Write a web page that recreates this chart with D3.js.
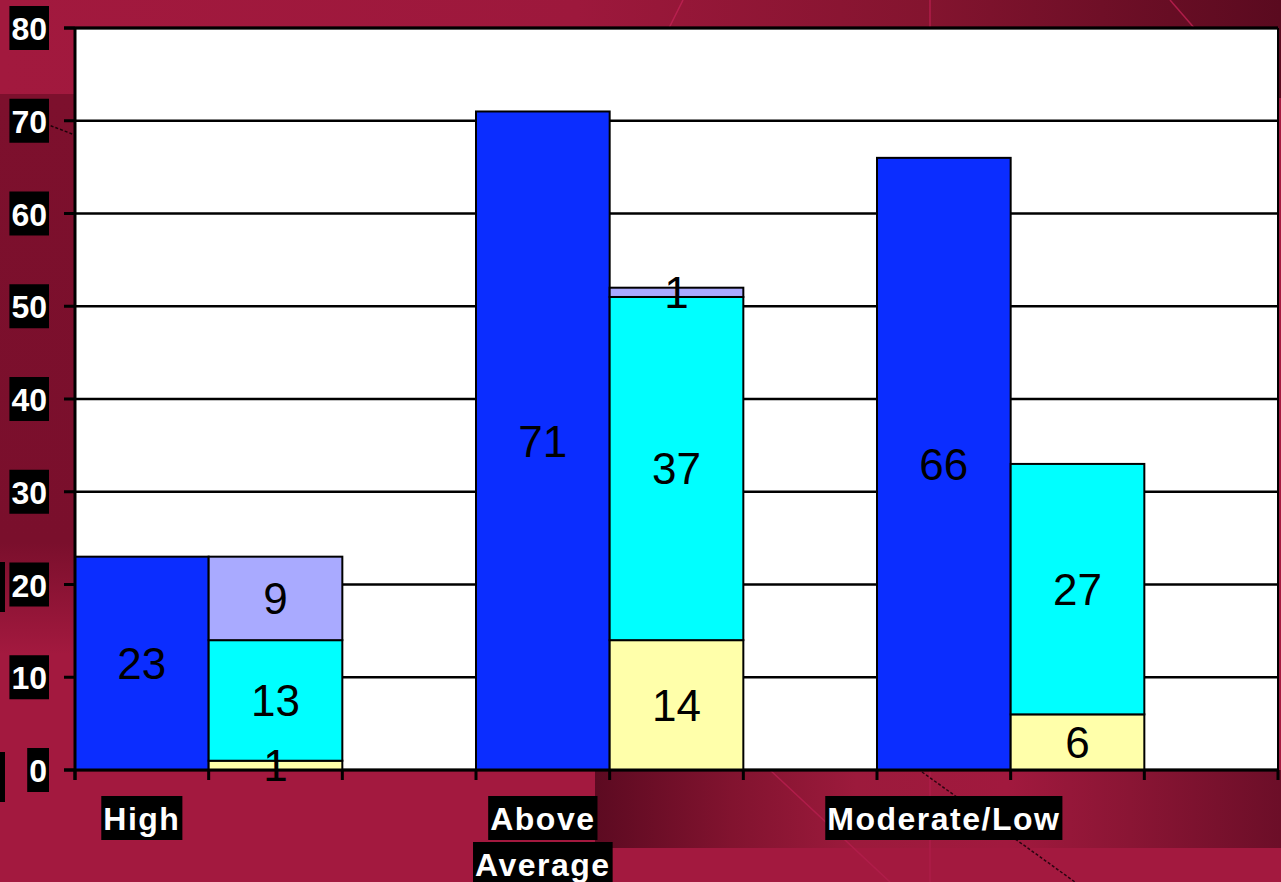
<!DOCTYPE html>
<html>
<head>
<meta charset="utf-8">
<script src="https://cdn.jsdelivr.net/npm/d3@7"></script>
<style>
  html, body { margin: 0; padding: 0; background: #a3193f; }
  svg { display: block; }
</style>
</head>
<body>
<svg id="chart" width="1281" height="882"></svg>
<script>
// data
let categories = ['High', 'Above Average', 'Moderate/Low']
let totals = [23, 71, 66]
let seriesKeys = ['bottom', 'middle', 'top']
let bottomVals = [1, 14, 6]
let middleVals = [13, 37, 27]
let topVals = [9, 1, 0]
let yTicks = [0, 10, 20, 30, 40, 50, 60, 70, 80]

let colors = {
  total: '#0b2dff',
  bottom: '#ffffaa',
  middle: '#00ffff',
  top: '#a9aaff'
}

let width = 1281
let height = 882
let plot = {left: 75, right: 1278, top: 28, bottom: 770}

let svg = d3.select('#chart')
let defs = svg.append('defs')

let grad = (id, stops) => {
  let g = defs.append('linearGradient').attr('id', id)
    .attr('x1', 0).attr('x2', 1).attr('y1', 0).attr('y2', 0)
  stops.forEach(s => g.append('stop').attr('offset', s[0]).attr('stop-color', s[1]))
}
grad('topBand', [[0, '#a2193e'], [0.45, '#9d183c'], [0.72, '#84142f'], [1, '#5a0a1f']])
grad('botBand', [[0, '#5c0a21'], [0.2, '#82132f'], [0.38, '#9c1a3c'], [0.6, '#a1193e'], [0.78, '#8a1534'], [1, '#6c0e28']])
defs.append('linearGradient').attr('id', 'leftBand')
  .attr('x1', 0).attr('x2', 0).attr('y1', 0).attr('y2', 1)
  .call(g => {
    g.append('stop').attr('offset', 0).attr('stop-color', '#7d102d')
    g.append('stop').attr('offset', 0.8).attr('stop-color', '#7a0f2c')
    g.append('stop').attr('offset', 1).attr('stop-color', '#a3193f')
  })

// background
let bg = svg.append('g').attr('class', 'background')
bg.append('rect').attr('width', width).attr('height', height).attr('fill', '#a3193f')
bg.append('rect').attr('x', 0).attr('y', 0).attr('width', width).attr('height', 98).attr('fill', 'url(#topBand)')
bg.append('rect').attr('x', 0).attr('y', 94).attr('width', 75).attr('height', 560).attr('fill', 'url(#leftBand)')
bg.append('rect').attr('x', 595).attr('y', 770).attr('width', width - 595).attr('height', 78).attr('fill', 'url(#botBand)')
bg.append('line').attr('x1', 683).attr('y1', 0).attr('x2', 668).attr('y2', 30).attr('stroke', '#b8204f').attr('stroke-width', 1.5)
bg.append('line').attr('x1', 930).attr('y1', 0).attr('x2', 930).attr('y2', 30).attr('stroke', '#b01d4a').attr('stroke-width', 1.5)
bg.append('line').attr('x1', 1170).attr('y1', 0).attr('x2', 1196).attr('y2', 30).attr('stroke', '#b01d4a').attr('stroke-width', 1.5)
bg.append('line').attr('x1', 930).attr('y1', 770).attr('x2', 930).attr('y2', 882).attr('stroke', '#ad1c48').attr('stroke-width', 1.5)
bg.append('line').attr('x1', 770).attr('y1', 770).attr('x2', 890).attr('y2', 882).attr('stroke', '#b01d4a').attr('stroke-width', 1.5)
bg.append('line').attr('x1', 922).attr('y1', 772).attr('x2', 1075).attr('y2', 882).attr('stroke', '#2a0410').attr('stroke-width', 1.5).attr('stroke-dasharray', '3,2')
bg.append('line').attr('x1', 46).attr('y1', 124).attr('x2', 75).attr('y2', 135).attr('stroke', '#1a0208').attr('stroke-width', 1.5).attr('stroke-dasharray', '3,2')
bg.append('rect').attr('x', 0).attr('y', 562).attr('width', 5).attr('height', 50).attr('fill', '#000')
bg.append('rect').attr('x', 0).attr('y', 752).attr('width', 5).attr('height', 50).attr('fill', '#000')

// scales
let y = d3.scaleLinear().domain([0, 80]).range([plot.bottom, plot.top])
let x = d3.scaleBand().domain(categories).range([plot.left, plot.right]).padding(0)
let slot = x.bandwidth() / 3

// plot area
svg.append('rect')
  .attr('x', plot.left).attr('y', plot.top)
  .attr('width', plot.right - plot.left).attr('height', plot.bottom - plot.top)
  .attr('fill', '#fff')

// gridlines
svg.append('g')
  .selectAll('line')
  .data(yTicks)
  .enter()
  .append('line')
  .attr('x1', plot.left).attr('x2', plot.right)
  .attr('y1', d => y(d)).attr('y2', d => y(d))
  .attr('stroke', '#000').attr('stroke-width', 2.5)

svg.append('line')
  .attr('x1', plot.right).attr('x2', plot.right)
  .attr('y1', plot.top).attr('y2', plot.bottom)
  .attr('stroke', '#000').attr('stroke-width', 2)

// total bars
let rows = categories.map((c, i) => ({
  cat: c, total: totals[i], bottom: bottomVals[i], middle: middleVals[i], top: topVals[i]
}))

let barGroup = svg.append('g').attr('class', 'bars')

barGroup.selectAll('.total-bar')
  .data(rows)
  .enter()
  .append('rect')
  .attr('class', 'total-bar')
  .attr('x', d => x(d.cat))
  .attr('width', slot)
  .attr('y', d => y(d.total))
  .attr('height', d => y(0) - y(d.total))
  .attr('fill', colors.total)
  .attr('stroke', '#000').attr('stroke-width', 2)

let stacked = d3.stack().keys(seriesKeys)(rows)

let segs = stacked.flatMap(s => s.map(p => ({key: s.key, cat: p.data.cat, y0: p[0], y1: p[1]})))
  .filter(d => d.y1 - d.y0 > 0)

barGroup.selectAll('.stack-bar')
  .data(segs)
  .enter()
  .append('rect')
  .attr('class', 'stack-bar')
  .attr('x', d => x(d.cat) + slot)
  .attr('width', slot)
  .attr('y', d => y(d.y1))
  .attr('height', d => y(d.y0) - y(d.y1))
  .attr('fill', d => colors[d.key])
  .attr('stroke', '#000').attr('stroke-width', 2)

// axes lines
svg.append('line')
  .attr('x1', plot.left).attr('x2', plot.left)
  .attr('y1', plot.top).attr('y2', plot.bottom + 10)
  .attr('stroke', '#000').attr('stroke-width', 3)
svg.append('line')
  .attr('x1', plot.left - 11).attr('x2', plot.right)
  .attr('y1', plot.bottom).attr('y2', plot.bottom)
  .attr('stroke', '#000').attr('stroke-width', 3)
svg.append('line')
  .attr('x1', plot.left - 11).attr('x2', plot.right)
  .attr('y1', plot.top).attr('y2', plot.top)
  .attr('stroke', '#000').attr('stroke-width', 3)

// y ticks
svg.append('g')
  .selectAll('line')
  .data(yTicks)
  .enter()
  .append('line')
  .attr('x1', plot.left - 11).attr('x2', plot.left)
  .attr('y1', d => y(d)).attr('y2', d => y(d))
  .attr('stroke', '#000').attr('stroke-width', 3)

// x ticks at each slot boundary
let xTickPos = d3.range(categories.length * 3 + 1).map(i => plot.left + i * slot)
svg.append('g')
  .selectAll('line')
  .data(xTickPos)
  .enter()
  .append('line')
  .attr('x1', d => d).attr('x2', d => d)
  .attr('y1', plot.bottom).attr('y2', plot.bottom + 10)
  .attr('stroke', '#000').attr('stroke-width', 3)

// value labels
let labelData = rows.map(d => ({x: x(d.cat) + slot / 2, v: d.total, y0: 0, y1: d.total}))
  .concat(segs.map(d => ({x: x(d.cat) + slot * 1.5, v: d.y1 - d.y0, y0: d.y0, y1: d.y1})))

svg.append('g')
  .selectAll('text')
  .data(labelData)
  .enter()
  .append('text')
  .attr('x', d => d.x)
  .attr('y', d => y((d.y0 + d.y1) / 2))
  .attr('dy', '0.36em')
  .attr('text-anchor', 'middle')
  .attr('font-family', 'Liberation Sans, Arial, sans-serif')
  .attr('font-size', 44)
  .attr('fill', '#000')
  .text(d => d.v)

// boxed white labels
let boxedText = (g, txt, xPos, yBase, anchor, spacing) => {
  let t = g.append('text')
    .attr('x', xPos).attr('y', yBase)
    .attr('text-anchor', anchor)
    .attr('font-family', 'Liberation Sans, Arial, sans-serif')
    .attr('font-weight', 'bold')
    .attr('font-size', 32)
    .attr('letter-spacing', spacing)
    .attr('fill', '#fff')
    .text(txt)
  let b = t.node().getBBox()
  g.insert('rect', 'text')
    .attr('x', b.x - 2).attr('y', yBase - 34)
    .attr('width', b.width + 4).attr('height', 44)
    .attr('fill', '#000')
}

let yLab = svg.append('g')
yTicks.forEach(v => {
  let g = yLab.append('g')
  boxedText(g, v, 47, y(v) + 12, 'end', 0)
})

let xLab = svg.append('g')
rows.forEach(d => {
  let parts = d.cat === 'Above Average' ? ['Above', 'Average'] : [d.cat]
  parts.forEach((p, j) => {
    let g = xLab.append('g')
    boxedText(g, p, x(d.cat) + slot / 2, 830 + j * 46, 'middle', 1.5)
  })
})
</script>
</body>
</html>
